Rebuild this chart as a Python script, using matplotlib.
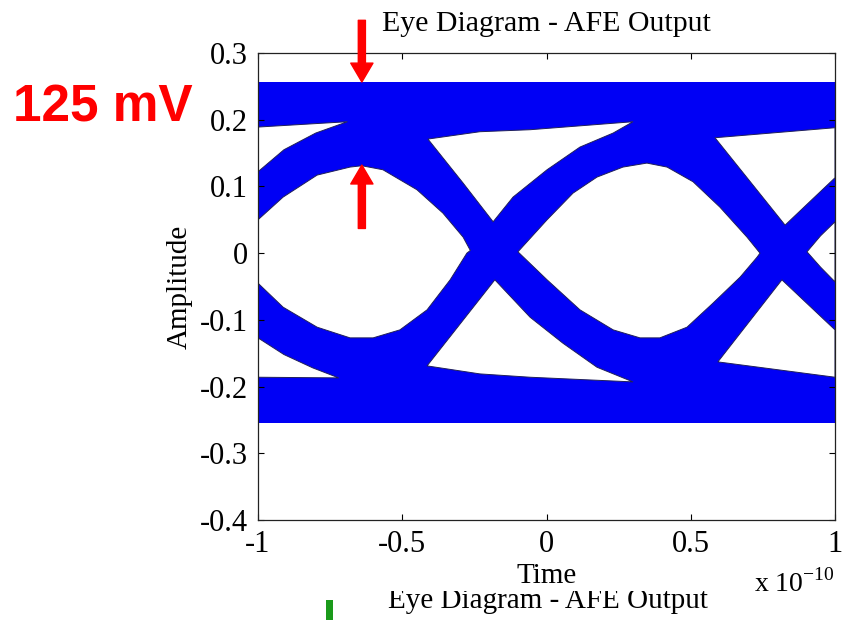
import matplotlib
matplotlib.use("Agg")
import matplotlib.pyplot as plt
from matplotlib.transforms import Bbox, TransformedBbox
from matplotlib.patches import Rectangle

# ------------------ DATA (time in units of 1e-10 s) ------------------

x_ticks = [-1, -0.5, 0, 0.5, 1]
x_tick_labels = ['-1', '-0.5', '0', '0.5', '1']
y_ticks = [0.3, 0.2, 0.1, 0, -0.1, -0.2, -0.3, -0.4]
y_tick_labels = ['0.3', '0.2', '0.1', '0', '-0.1', '-0.2', '-0.3', '-0.4']

# overall extent of the traces
trace_t = [-1.0, 1.0]
trace_top = [0.2565, 0.2565]
trace_bottom = [-0.255, -0.255]

# open (white) regions of the eye, as outlines
gap_tl_t = [-1.0, -0.69, -0.80, -0.91, -1.0]
gap_tl_v = [0.189, 0.197, 0.180, 0.155, 0.122]

eye_left_t = [-1.0, -0.913, -0.795, -0.681, -0.640, -0.567, -0.449, -0.359, -0.289, -0.264,
              -0.276, -0.334, -0.414, -0.508, -0.601, -0.681, -0.795, -0.913, -1.0]
eye_left_v = [0.050, 0.084, 0.117, 0.129, 0.131, 0.125, 0.095, 0.060, 0.024, 0.004,
              0.0, -0.040, -0.085, -0.115, -0.127, -0.127, -0.111, -0.081, -0.045]

gap_bl_t = [-1.0, -0.91, -0.81, -0.72, -1.0]
gap_bl_v = [-0.127, -0.152, -0.172, -0.187, -0.186]

gap_tm_t = [-0.411, -0.231, -0.057, 0.300, 0.231, 0.116, 0.002, -0.116, -0.185, -0.289]
gap_tm_v = [0.171, 0.182, 0.185, 0.197, 0.180, 0.159, 0.125, 0.084, 0.047, 0.105]

gap_bm_t = [-0.414, -0.179, -0.057, 0.057, 0.175, 0.300, -0.057, -0.231]
gap_bm_v = [-0.169, -0.040, -0.096, -0.135, -0.171, -0.193, -0.186, -0.181]

eye_mid_t = [-0.099, 0.002, 0.092, 0.175, 0.265, 0.348, 0.418, 0.508, 0.601, 0.695, 0.740,
             0.730, 0.671, 0.577, 0.487, 0.393, 0.324, 0.231, 0.116, 0.002]
eye_mid_v = [0.002, 0.050, 0.090, 0.114, 0.129, 0.135, 0.129, 0.107, 0.069, 0.024, 0.0,
             -0.006, -0.036, -0.075, -0.111, -0.127, -0.127, -0.115, -0.085, -0.040]

gap_tr_t = [0.584, 1.0, 1.0, 0.827]
gap_tr_v = [0.173, 0.188, 0.113, 0.042]

eye_right_t = [0.903, 0.95, 1.0, 1.0, 0.95]
eye_right_v = [0.002, 0.026, 0.047, -0.043, -0.021]

gap_br_t = [0.816, 1.0, 1.0, 0.594]
gap_br_v = [-0.040, -0.115, -0.186, -0.163]

openings = [(gap_tl_t, gap_tl_v), (eye_left_t, eye_left_v), (gap_bl_t, gap_bl_v),
            (gap_tm_t, gap_tm_v), (gap_bm_t, gap_bm_v), (eye_mid_t, eye_mid_v),
            (gap_tr_t, gap_tr_v), (eye_right_t, eye_right_v), (gap_br_t, gap_br_v)]

# eye height marker (red arrows)
marker_t = -0.64
marker_top = 0.2565
marker_bottom = 0.132

# ------------------ PLOT ------------------

plt.rcParams['axes.unicode_minus'] = False
serif = ['Liberation Serif', 'DejaVu Serif']

fig = plt.figure(figsize=(8.44, 6.2), dpi=100)
ax = fig.add_axes([258/844, 1 - 520/620, 577/844, 467/620])

ax.fill_between(trace_t, trace_bottom, trace_top, color='#0000f5', lw=0)
for ot, ov in openings:
    ax.fill(ot, ov, facecolor='white', edgecolor='#20205a', lw=0.7)

ax.set_xlim(-1, 1)
ax.set_ylim(-0.4, 0.3)
ax.set_xticks(x_ticks)
ax.set_xticklabels(x_tick_labels, family=serif, fontsize=22)
ax.set_yticks(y_ticks)
ax.set_yticklabels(y_tick_labels, family=serif, fontsize=22)
ax.tick_params(direction='in', top=True, right=True, length=4, width=0.8, pad=7)
for s in ax.spines.values():
    s.set_linewidth(0.9)
    s.set_color('#222222')

ax.set_title('Eye Diagram - AFE Output', family=serif, fontsize=21.5, pad=16)
ax.set_xlabel('Time', family=serif, fontsize=21, labelpad=3)
ax.set_ylabel('Amplitude', family=serif, fontsize=21, labelpad=5)
ax.text(0.93, -0.135, r'x 10$^{\mathregular{-10}}$', transform=ax.transAxes,
        family=serif, fontsize=20, ha='center', va='center')

# red annotation
arrow = dict(arrowstyle='simple,tail_width=0.32,head_width=1.0,head_length=0.85',
             color='#ff0000', shrinkA=0, shrinkB=0, mutation_scale=16)
ax.annotate('', xy=(marker_t, marker_top), xytext=(marker_t, 0.349),
            arrowprops=arrow, annotation_clip=False)
ax.annotate('', xy=(marker_t, marker_bottom), xytext=(marker_t, 0.037),
            arrowprops=arrow, annotation_clip=False)
fig.text(0.122, 0.826, '125 mV', color='#ff0000', fontsize=37, fontweight='bold',
         family=['Liberation Sans', 'DejaVu Sans'], ha='center', va='center')

# top of the next slide chart peeking in at the bottom
nxt = fig.text(0.649, 1 - 608/620, 'Eye Diagram - AFE Output', family=serif,
               fontsize=21, ha='center', va='baseline')
nxt.set_clip_box(TransformedBbox(Bbox([[0, 0], [1, 1 - 591/620]]), fig.transFigure))
nxt.set_clip_on(True)
fig.patches.append(Rectangle((326/844, 0), 7/844, 20/620, transform=fig.transFigure,
                             facecolor='#1a9a1a', lw=0))

fig.savefig('out.png', dpi=100)
